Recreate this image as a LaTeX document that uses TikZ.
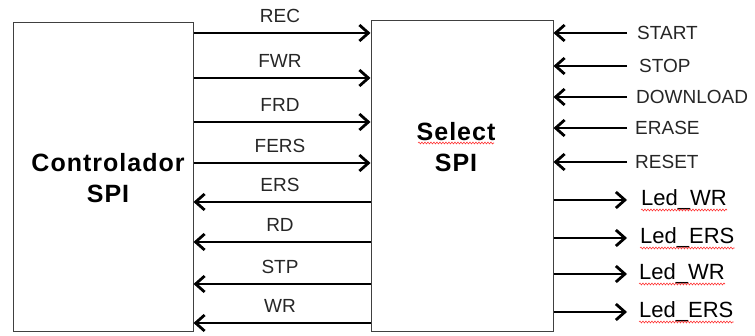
\documentclass[tikz,border=0pt]{standalone}
\usepackage{fontspec}
\setmainfont{Liberation Sans}
\newfontfamily\blockfont[LetterSpace=4]{Liberation Sans}
\usetikzlibrary{arrows.meta,decorations.pathmorphing}
\begin{document}
\begin{tikzpicture}[x=1pt,y=-1pt,
  block/.style={draw=black!75,line width=1pt,inner sep=0pt},
  title/.style={inner sep=0pt,align=center,
    font=\blockfont\fontsize{25}{31}\selectfont\bfseries},
  sig/.style={line width=2.4pt,-{Straight Barb[length=9pt,width=16pt,line width=2.8pt]}},
  sigtext/.style={inner sep=0pt,text=black!85,font=\fontsize{19}{21}\selectfont},
  signame/.style={sigtext,anchor=base},
  pinname/.style={sigtext,anchor=west},
  ledname/.style={inner sep=0pt,anchor=west,font=\fontsize{22}{24}\selectfont},
  spell/.style={draw=red!80,line width=0.6pt,
    decorate,decoration={snake,amplitude=0.9pt,segment length=3pt}}]
\useasboundingbox (0,0) rectangle (755,336);

% the two blocks
\node[block,minimum width=180pt,minimum height=309pt] (ctrl) at (103,177.5) {};
\node[block,minimum width=182pt,minimum height=311pt] (sel) at (462,176.5) {};
\node[title] (ctrltitle) at (108,178) {Controlador\\SPI};
\node[title] (seltitle) at (456,147) {Select\\SPI};
\draw[spell] ([xshift=-38pt,yshift=4pt]seltitle.center) -- ([xshift=38pt,yshift=4pt]seltitle.center);

% signals between the controller and the selector
\foreach \nm/\y/\dir in {REC/33/f,FWR/78/f,FRD/122/f,FERS/163/f,ERS/202/b,RD/242/b,STP/284/b,WR/323/b}{
  \coordinate (l\nm) at (ctrl.east |- 0,\y);
  \coordinate (r\nm) at (sel.west |- 0,\y);
  \node[signame] (t\nm) at (280,\y-10) {\nm};
  \if\dir f
    \draw[sig] (l\nm) -- (r\nm);
  \else
    \draw[sig] (r\nm) -- (l\nm);
  \fi
}

% inputs of the selector
\foreach \nm/\y/\x in {START/33/637,STOP/66/639,DOWNLOAD/97/636,ERASE/128/635,RESET/162/635}{
  \node[pinname] (t\nm) at (\x,\y) {\nm};
  \coordinate (e\nm) at (627,\y);
  \draw[sig] (e\nm) -- (sel.east |- e\nm);
}

% LED outputs
\foreach \i/\nm/\y/\x in {1/Led\_WR/200/641,2/Led\_ERS/238/640,3/Led\_WR/274/639,4/Led\_ERS/312/639}{
  \node[ledname] (led\i) at (\x,\y) {\nm};
  \coordinate (o\i) at (627,\y);
  \draw[sig] (sel.east |- o\i) -- (o\i);
  \draw[spell] ([yshift=-10pt]led\i.west) -- ([yshift=-10pt]led\i.east);
}
\end{tikzpicture}
\end{document}
